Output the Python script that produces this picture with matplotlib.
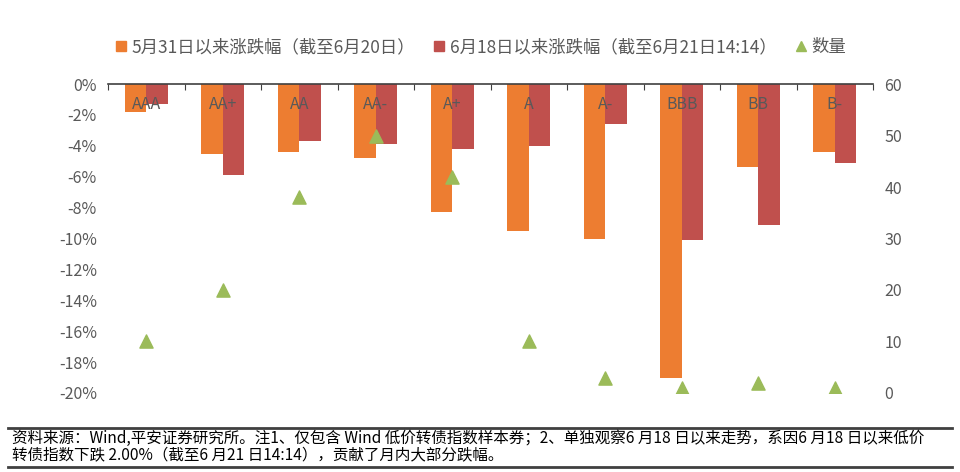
import numpy as np
import matplotlib
matplotlib.use("Agg")
from matplotlib import pyplot as plt
from matplotlib.lines import Line2D

plt.rcParams["font.family"] = ["Noto Sans CJK SC", "DejaVu Sans"]

categories = ["AAA", "AA+", "AA", "AA-", "A+", "A", "A-", "BBB", "BB", "B-"]
chg_since_0531 = [-1.8, -4.5, -4.4, -4.8, -8.3, -9.5, -10.0, -19.0, -5.4, -4.4]
chg_since_0618 = [-1.3, -5.9, -3.7, -3.9, -4.2, -4.0, -2.6, -10.1, -9.1, -5.1]
counts = [10, 20, 38, 50, 42, 10, 3, 1, 2, 1]

label1 = "5月31日以来涨跌幅（截至6月20日）"
label2 = "6月18日以来涨跌幅（截至6月21日14:14）"
label3 = "数量"
note = ("资料来源：Wind,平安证券研究所。注1、仅包含 Wind 低价转债指数样本券；2、单独观察6 月18 日以来走势，系因6 月18 日以来低价\n"
        "转债指数下跌 2.00%（截至6 月21 日14:14），贡献了月内大部分跌幅。")

orange = "#ED7D31"
red = "#C0504D"
green = "#9BBB59"
grey = "#595959"

fig = plt.figure(figsize=(9.6, 4.72), dpi=100)
ax = fig.add_axes([0.1125, 0.1674, 0.797, 0.6546])

x = np.arange(len(categories))
w = 0.28
ax.bar(x - w / 2, chg_since_0531, w, color=orange, label=label1, zorder=2)
ax.bar(x + w / 2, chg_since_0618, w, color=red, label=label2, zorder=2)

ax.set_xlim(-0.5, len(categories) - 0.5)
ax.set_ylim(-20, 0)
ax.set_yticks(np.arange(-20, 1, 2))
ax.set_yticklabels([f"{v}%" for v in range(-20, 1, 2)])
ax.tick_params(axis="y", length=0, labelsize=11.5, colors=grey, pad=8)

# axis line sits at 0 (top), ticks between categories
ax.xaxis.tick_top()
ax.set_xticks(np.arange(-0.5, len(categories), 1))
ax.tick_params(axis="x", direction="in", length=4, labeltop=False, color="#404040")
for s in ["left", "right", "bottom"]:
    ax.spines[s].set_visible(False)
ax.spines["top"].set_color("#404040")
ax.spines["top"].set_linewidth(1.2)

for i, c in enumerate(categories):
    ax.text(i, -1.3, c, ha="center", va="center", fontsize=11.5, color=grey, zorder=3)

ax2 = ax.twinx()
ax2.scatter(x, counts, marker="^", s=90, color=green, label=label3, zorder=4)
ax2.set_ylim(0, 60)
ax2.set_yticks(np.arange(0, 61, 10))
ax2.tick_params(axis="y", length=0, labelsize=11.5, colors=grey, pad=8)
for s in ax2.spines.values():
    s.set_visible(False)

handles = [
    Line2D([], [], marker="s", linestyle="", color=orange, markersize=7),
    Line2D([], [], marker="s", linestyle="", color=red, markersize=7),
    Line2D([], [], marker="^", linestyle="", color=green, markersize=7),
]
fig.legend(handles, [label1, label2, label3], loc="center", bbox_to_anchor=(0.5, 0.9),
           ncol=3, frameon=False, fontsize=12.5, handlelength=0.8, handletextpad=0.2,
           columnspacing=1.0, labelcolor=grey)

fig.add_artist(Line2D([0.008, 0.992], [0.093, 0.093], color="#404040", linewidth=2))
fig.add_artist(Line2D([0.008, 0.992], [0.011, 0.011], color="#404040", linewidth=2))
fig.text(0.012, 0.052, note, fontsize=11.2, color="black", va="center", ha="left",
         linespacing=1.05)

fig.savefig("out.png", dpi=100)
